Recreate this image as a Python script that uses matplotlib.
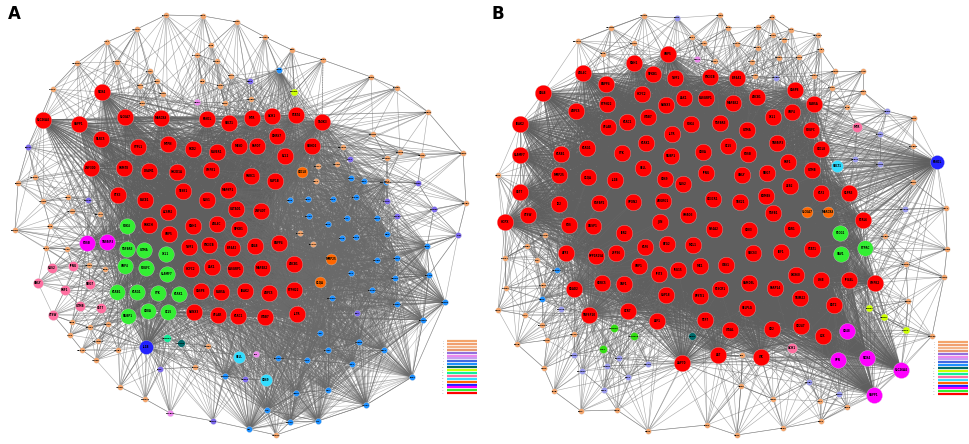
import numpy as np
import matplotlib
matplotlib.use("Agg")
import matplotlib.pyplot as plt
from matplotlib.collections import LineCollection

plt.rcParams['font.family'] = ['DejaVu Sans']

# node colours and sizes (radius in px) per module
GROUPS = {
    "red":     ("#ff0000", 8.3),
    "green":   ("#33ee33", 7.8),
    "green_s": ("#33dd11", 4.0),
    "magenta": ("#ff00ff", 8.0),
    "orange":  ("#ff6600", 5.5),
    "blue":    ("#2222ff", 7.0),
    "cyan":    ("#33ddff", 6.0),
    "pink":    ("#ff6fa0", 5.0),
    "plum":    ("#ee88ee", 3.2),
    "yellow":  ("#ccff00", 3.5),
    "spring":  ("#11ee99", 3.8),
    "teal":    ("#006868", 3.8),
    "purple":  ("#7b68ee", 3.0),
    "lav":     ("#9999ee", 3.0),
    "dodger":  ("#1e90ff", 3.0),
    "sandy":   ("#f4a46a", 2.8),
}
CORE = ["red", "green", "magenta", "orange", "blue"]
CLIQUE = ["dodger"]
K_RED = {"dodger": 30, "purple": 12, "lav": 12, "sandy": 9}
K_NB = {"dodger": 9}

GENES = ["NOX4","SLC26A4","SGPP1","SLC6A7","MARCKS","FANCL","SOLT1","MTR","GCH1","STAT4",
         "TAOK3","NLRC5","SYPL1","MTPN","PKD2","RAVER1","MESD","PAPD7","DHRS7","SOHD2",
         "ZNF300","PRMT8","DRAM1","SH2D1A","CMPK1","PNRC1","RAP1B","BCL2","STX3","BACE1",
         "TESK1","MAPKP1","RGS1","ACSM2","GATAD1","ZNF407","PRKCH","GBP5","RNH1","ARL4C",
         "NFKB1","TWF1","PIK3CB","EIF4A2","CBLB","ENPP4","HCFC2","LAX1","RASGRP1","MAP4K2",
         "ABCB1","CASP8","RAB5A","IRAK2","ARPC5","PTPN22","RUNX3","CFLAR","KLRC1","ITGB7",
         "IL7R","PDK4","TGFBR3","GZMA","XCL1","GBP4","PDGFC","SLAMF7","KLRB1","KLRG1",
         "SYK","KLRK1","NUBP1","CD8A","CCL5","FOSB","TNFAIP3","CXCL8","MMP25","C1QA",
         "IL1B","SELL","CD69","RGS2","IFNG","GNLY","NKG7","PRF1","GZMB","CST7",
         "CTSW","HOPX","ID2","FGFBP2","SPON2","ADGRG1","CX3CR1","TBX21","EOMES","ZEB2",
         "KLF2","S1PR5","FCRL6","TGFB1","SMAD3","JUN","FOS","DUSP1","IER2","NR4A2",
         "CD83","EGR1","ATF3","PPP1R15A","ZFP36","KLF6","BTG2","MCL1","SOCS3","IRF1",
         "STAT1","GBP1","IFIT3","ISG15","MX1","OAS1","RSAD2","HERC5","XAF1","USP18",
         "EPSTI1","PLSCR1","SAMD9L","PARP14","DDX60","TRIM22","LY6E","IFI44L","CMPK2","BST2",
         "TNFSF10","CCR7","LEF1","TCF7","SELPLG","ITGAL","CD2","CD247","LCK","ZAP70",
         "LAT","ITK","PLCG1","VAV1","PTPRC","CORO1A","ARHGDIB","LCP1","CD48","SPN"]

# ---- panel A node positions (px) ----
a_red = [(102,92),(43,120),(79,124),(125,117),(161,118),(207,119),(229,123),(252,118),(272,116),(296,115),
         (322,122),(101,139),(138,147),(168,144),(193,149),(217,152),(239,146),(257,146),(277,136),(312,146),
         (91,168),(124,168),(149,171),(177,172),(211,170),(251,176),(275,181),(285,156),(118,195),(145,200),
         (183,191),(228,190),(207,200),(168,212),(236,209),(261,211),(149,225),(169,234),(193,226),(217,224),
         (239,229),(189,247),(209,245),(232,248),(255,246),(279,243),(191,269),(212,267),(235,269),(262,268),
         (294,264),(201,291),(221,292),(245,291),(269,293),(294,290),(194,312),(218,315),(238,316),(265,317),
         (297,314)]
a_green = [(127,226),(127,249),(144,250),(166,254),(125,266),(146,268),(167,274),(117,292),(137,292),
           (158,293),(179,294),(128,316),(148,311),(168,312)]
a_magenta = [(87,243),(107,242)]
a_orange = [(302,172),(331,259),(320,282)]
a_blue = [(146,347)]
a_cyan = [(239,357),(266,380)]
a_pink = [(52,268),(73,266),(38,283),(90,284),(65,290),(80,306),(101,308),(53,315)]
a_plum = [(197,102),(256,354),(170,413)]
a_yellow = [(294,92)]
a_spring = [(167,338)]
a_teal = [(181,343)]
a_purple = [(28,147),(88,200),(250,81),(350,159),(418,183),(387,201),(397,216),(434,209),(458,235),
            (357,313),(245,379),(160,369),(213,421)]
a_dodger = [(279,70),(351,178),(364,181),(386,182),(356,197),(333,199),(290,200),(308,199),(309,216),
            (347,218),(377,218),(328,224),(342,238),(356,237),(387,234),(427,246),(377,260),(397,258),
            (351,273),(395,278),(429,275),(372,290),(332,298),(397,304),(445,302),(423,320),(320,333),
            (328,350),(359,342),(384,350),(278,358),(307,360),(352,364),(412,377),(225,376),(296,393),
            (328,390),(366,405),(267,410),(290,422),(318,421),(249,429)]
a_sandy = [(166,15),(203,16),(237,22),(137,29),(265,37),(107,42),(211,45),(292,50),(323,60),(197,55),
           (217,61),(117,62),(77,63),(150,71),(231,76),(202,81),(157,81),(140,86),(220,86),(163,94),
           (53,89),(142,103),(225,103),(251,99),(371,77),(397,88),(428,112),(373,134),(343,147),(400,152),
           (422,155),(387,158),(463,153),(318,166),(337,164),(316,181),(387,181),(466,203),(18,183),(35,177),
           (68,197),(43,201),(72,211),(100,214),(15,230),(50,226),(46,248),(67,249),(89,265),(105,269),
           (300,233),(313,244),(72,322),(90,327),(108,324),(70,335),(98,341),(82,350),(118,350),(96,360),
           (208,346),(195,367),(120,387),(145,399),(276,435)]

# ---- panel B node positions (px) ----
b_red = [(668,54),(634,63),(583,73),(653,74),(675,78),(710,77),(737,78),(543,93),(606,84),(642,94),
         (684,98),(706,98),(733,103),(757,97),(795,90),(814,104),(520,124),(576,111),(607,104),(666,105),
         (608,127),(627,122),(648,117),(672,134),(691,124),(720,123),(747,130),(773,117),(792,112),(811,130),
         (520,155),(561,154),(587,148),(622,153),(646,143),(671,156),(703,152),(728,146),(748,154),(777,143),
         (821,149),(559,175),(588,177),(615,180),(643,168),(665,179),(683,184),(706,173),(742,175),(767,173),
         (788,162),(812,170),(520,192),(528,215),(505,222),(559,204),(599,203),(633,202),(663,201),(713,199),
         (740,202),(766,196),(790,186),(821,193),(849,193),(863,220),(773,213),(688,215),(660,222),(569,225),
         (593,226),(624,233),(714,229),(749,230),(792,229),(566,253),(596,256),(616,253),(645,247),(667,244),
         (693,245),(753,253),(781,252),(812,249),(639,266),(659,274),(678,270),(700,266),(726,265),(574,289),
         (602,283),(624,284),(666,295),(700,296),(720,289),(749,283),(775,288),(796,275),(800,298),(821,280),
         (849,280),(875,283),(834,305),(589,315),(628,311),(657,321),(705,320),(747,308),(730,330),(772,329),
         (801,326),(823,336),(682,363),(718,355),(761,357)]
b_green = [(840,233),(841,254),(865,248)]
b_green_s = [(614,328),(634,336),(603,349)]
b_yellow = [(869,308),(884,317),(906,330)]
b_magenta = [(847,331),(838,360),(867,358),(901,370),(874,395)]
b_teal = [(692,336)]
b_pink = [(857,127),(792,348)]
b_cyan = [(837,166)]
b_blue = [(937,162)]
b_orange = [(807,212),(828,212)]
b_plum = [(697,59)]
b_dodger = [(557,270),(542,299)]
b_lav = [(677,18),(776,78),(887,111),(880,134),(855,159),(880,164),(905,209),(561,309),(574,355),
         (582,371),(607,366),(619,358),(648,364),(628,377),(604,390),(809,382),(839,394)]
b_sandy = [(644,16),(611,28),(578,41),(634,43),(603,54),(692,37),(704,43),(720,15),(728,28),(737,44),
           (758,27),(772,17),(758,48),(773,35),(791,30),(784,40),(818,35),(821,50),(752,62),(779,58),
           (799,57),(755,76),(814,76),(835,71),(863,71),(832,88),(863,92),(847,107),(914,118),(913,146),
           (913,182),(946,208),(498,175),(715,61),(545,235),(527,246),(505,258),(537,260),(506,288),(543,285),
           (498,310),(525,315),(517,344),(542,325),(547,340),(574,334),(544,368),(554,391),(581,411),(617,410),
           (648,431),(707,425),(737,435),(783,428),(821,421),(847,407),(820,401),(773,399),(741,386),(742,355),
           (885,236),(947,249),(906,264),(944,277),(908,301),(932,336)]

PANEL_A = [("red", a_red), ("green", a_green), ("magenta", a_magenta), ("orange", a_orange),
           ("blue", a_blue), ("cyan", a_cyan), ("pink", a_pink), ("plum", a_plum),
           ("yellow", a_yellow), ("spring", a_spring), ("teal", a_teal), ("purple", a_purple),
           ("dodger", a_dodger), ("sandy", a_sandy)]
PANEL_B = [("red", b_red), ("green", b_green), ("green_s", b_green_s), ("magenta", b_magenta),
           ("orange", b_orange), ("blue", b_blue), ("cyan", b_cyan), ("pink", b_pink),
           ("plum", b_plum), ("yellow", b_yellow), ("teal", b_teal), ("lav", b_lav),
           ("dodger", b_dodger), ("sandy", b_sandy)]
DASHED_A = [((292,50),(296,115)), ((323,60),(322,122)), ((279,70),(292,50))]

LEGEND_COLORS = ["#f4a46a","#f0a070","#f4b488","#e89870","#9370db","#ee88ee","#c8a0f0","#4169e1",
                 "#1e90ff","#006868","#ccff00","#11ee99","#ff6fa0","#33ddff","#ff6600","#2222ff",
                 "#ff00ff","#33ee33","#ff0000"]
LEGEND_LABELS = [str(i + 1) for i in range(len(LEGEND_COLORS))]


def px2pt(d):
    return (d * 0.72) ** 2


def all_pairs(pts):
    segs = []
    for i in range(len(pts)):
        for j in range(i + 1, len(pts)):
            segs.append((pts[i], pts[j]))
    return segs


def draw_panel(ax, panel, gene_offset, dashed=()):
    core = np.array([p for g, pts in panel if g in CORE for p in pts], dtype=float)
    # module core: everything densely linked
    ax.add_collection(LineCollection(all_pairs(core), colors="#5f5f5f", linewidths=0.45,
                                     alpha=0.6, zorder=1))
    for g, pts in panel:
        if g in CLIQUE and len(pts) > 2:
            ax.add_collection(LineCollection(all_pairs(np.array(pts, dtype=float)), colors="#666666",
                                             linewidths=0.4, alpha=0.45, zorder=1))
    # periphery links to nearest core nodes and neighbours
    others = np.array([p for g, pts in panel if g not in CORE for p in pts], dtype=float)
    kinds = [g for g, pts in panel if g not in CORE for p in pts]
    psegs = []
    for p, g in zip(others, kinds):
        d = np.hypot(*(core - p).T)
        for j in np.argsort(d)[:K_RED.get(g, 10)]:
            psegs.append((p, core[j]))
        d2 = np.hypot(*(others - p).T)
        for j in np.argsort(d2)[1:K_NB.get(g, 5)]:
            psegs.append((p, others[j]))
    ax.add_collection(LineCollection(psegs, colors="#6a6a6a", linewidths=0.4, alpha=0.6, zorder=1))
    for a, b in dashed:
        ax.plot([a[0], b[0]], [a[1], b[1]], ls=(0, (2, 1.5)), color="#888888", lw=0.5, zorder=1)

    k = gene_offset
    for g, pts in panel:
        col, r = GROUPS[g]
        xy = np.array(pts, dtype=float)
        ax.scatter(xy[:, 0], xy[:, 1], s=px2pt(2 * r), c=col, edgecolors="#dddddd",
                   linewidths=0.2, zorder=3)
        fs = 1.9 if r >= 5 else 1.5
        for x, y in pts:
            ax.text(x, y, GENES[k % len(GENES)], fontsize=fs, ha="center", va="center",
                    fontweight="bold", color="black", zorder=4)
            k += 1


def draw_legend(ax, x0, y0):
    for i, (c, lab) in enumerate(zip(LEGEND_COLORS, LEGEND_LABELS)):
        y = y0 + i * 2.9
        ax.plot([x0, x0 + 30], [y, y], color=c, lw=1.6, solid_capstyle="butt", zorder=5)
        ax.text(x0 - 3, y, lab, fontsize=1.4, ha="right", va="center", color="#999999", zorder=5)


fig = plt.figure(figsize=(9.7, 4.44), dpi=100)
ax = fig.add_axes([0, 0, 1, 1])
ax.set_xlim(0, 970)
ax.set_ylim(444, 0)
ax.axis("off")

draw_panel(ax, PANEL_A, 0, DASHED_A)
draw_panel(ax, PANEL_B, 37)
draw_legend(ax, 447, 341)
draw_legend(ax, 938, 342)

ax.text(8, 14, "A", fontsize=12, fontweight="bold", ha="left", va="center")
ax.text(492, 14, "B", fontsize=12, fontweight="bold", ha="left", va="center")

fig.savefig("out.png", dpi=100)
